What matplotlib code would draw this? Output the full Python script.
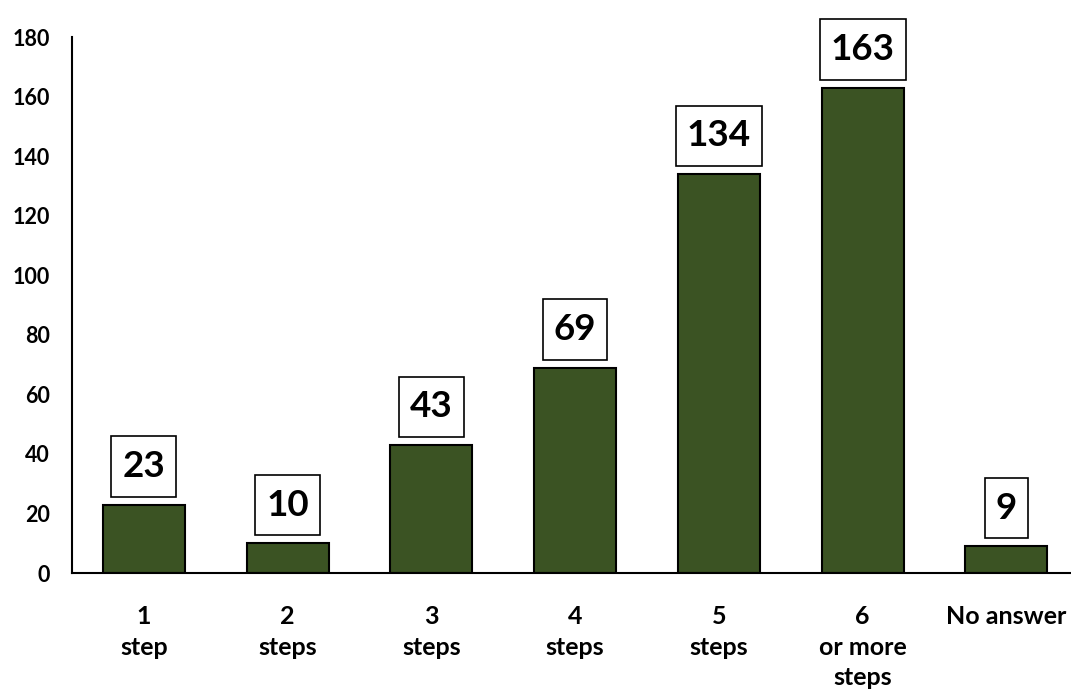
import matplotlib.pyplot as plt
from matplotlib.path import Path

categories = ["1\nstep", "2\nsteps", "3\nsteps", "4\nsteps", "5\nsteps", "6\nor more\nsteps", "No answer"]
counts = [23, 10, 43, 69, 134, 163, 9]
yticks = [0, 20, 40, 60, 80, 100, 120, 140, 160, 180]

plt.rcParams['font.family'] = ['Lato', 'DejaVu Sans']


def tall_box(x0, y0, width, height, mutation_size):
    # label box: a bit more room above and below than at the sides
    px = 0.3 * mutation_size
    py = 0.37 * mutation_size
    x1, y1 = x0 + width + px, y0 + height + py
    x0, y0 = x0 - px, y0 - py
    return Path([(x0, y0), (x1, y0), (x1, y1), (x0, y1), (x0, y0)], closed=True)


fig = plt.figure(figsize=(10.71, 6.90), dpi=100)
ax = fig.add_axes([72 / 1071, 117 / 690, 999 / 1071, 536 / 690])

x = range(len(categories))
ax.bar(x, counts, width=0.57, color="#3B5323", edgecolor="black", linewidth=1.5, zorder=2)

for xi, v in zip(x, counts):
    ax.annotate(str(v), (xi, v), xytext=(0, 15.5), textcoords="offset points",
                ha="center", va="bottom", fontsize=26.5, fontweight="bold",
                bbox=dict(boxstyle=tall_box, fc="white", ec="black", lw=1.2))

ax.set_xlim(-0.5, 6.45)
ax.set_ylim(0, 180)
ax.set_yticks(yticks)
ax.set_xticks(list(x))
ax.set_xticklabels(categories, fontsize=18, fontweight="bold", linespacing=1.4)
ax.tick_params(axis="y", length=0, pad=16, labelsize=15.5)
ax.tick_params(axis="x", length=0, pad=23)
for lab in ax.get_yticklabels():
    lab.set_fontweight("bold")

ax.spines["top"].set_visible(False)
ax.spines["right"].set_visible(False)
ax.spines["left"].set_linewidth(1.5)
ax.spines["bottom"].set_linewidth(1.5)

fig.savefig("out.png", dpi=100)
